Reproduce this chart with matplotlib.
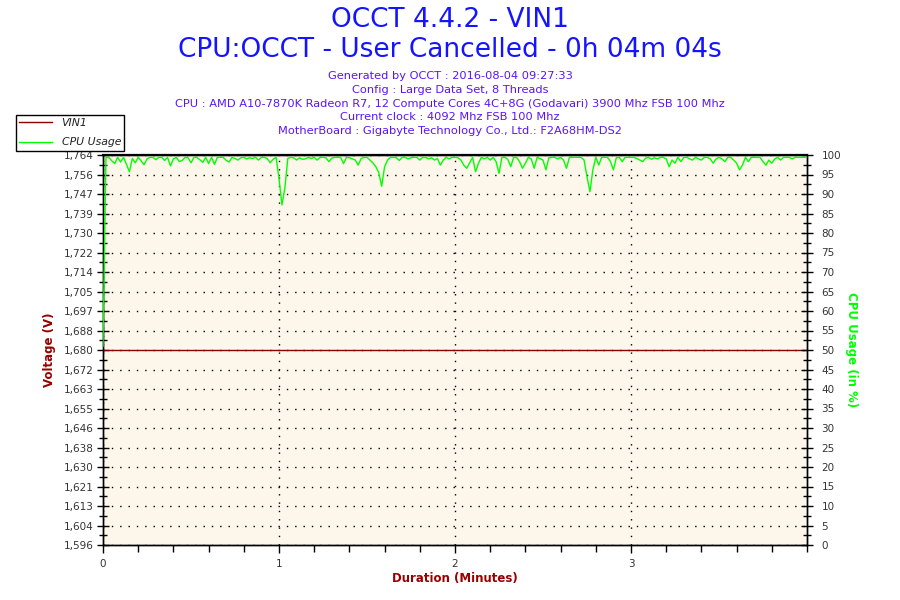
import numpy as np
import matplotlib
matplotlib.use("Agg")
import matplotlib.pyplot as plt
from matplotlib.lines import Line2D

# ---- data ----
title_main = "OCCT 4.4.2 - VIN1"
title_sub = "CPU:OCCT - User Cancelled - 0h 04m 04s"
info_lines = [
    "Generated by OCCT : 2016-08-04 09:27:33",
    "Config : Large Data Set, 8 Threads",
    "CPU : AMD A10-7870K Radeon R7, 12 Compute Cores 4C+8G (Godavari) 3900 Mhz FSB 100 Mhz",
    "Current clock : 4092 Mhz FSB 100 Mhz",
    "MotherBoard : Gigabyte Technology Co., Ltd.: F2A68HM-DS2",
]
vin1_value = 1.680  # volts, constant over the run
volt_min, volt_max = 1.596, 1.764
x_ticks = [0, 1, 2, 3]

# CPU usage (%) sampled once per second
cpu = [
    51, 99.4, 99.4, 98.5, 97.8, 99.4, 98.2, 99.4, 97.6, 95.7,
    99.1, 98, 99.4, 98.5, 97.5, 99, 99.4, 99.4, 98.8, 99.4,
    99.4, 98.6, 99.4, 97.2, 99, 99.4, 98.3, 98.6, 99.4, 99.3,
    98, 99.4, 99.4, 98.8, 98.1, 99.4, 97.8, 99.4, 97.6, 99.4,
    99.4, 99.4, 98.6, 98.2, 99.4, 99.1, 98.7, 99.3, 99.4, 99.0,
    99.3, 99.1, 99.4, 98.7, 99.4, 99.4, 99.1, 98.0, 98.9, 99.4,
    94, 87.2, 91.5, 99.1, 99.4, 99.3, 98.7, 99.3, 98.9, 99.0,
    99.4, 99.1, 99.4, 98.7, 99.4, 99.4, 99.3, 98.3, 99.2, 99.4,
    99.4, 99.4, 97.8, 99.4, 99.3, 99.0, 98.7, 97.4, 99.1, 99.4,
    99.4, 98.7, 98.0, 97.0, 95.5, 92.0, 97, 98.7, 99.4, 99.4,
    99.3, 98.6, 99.4, 99.4, 99.0, 99.3, 99.4, 99.4, 98.7, 99.4,
    99.4, 99.0, 99.3, 98.7, 99.1, 97.4, 98.7, 99.4, 99.0, 99.4,
    99.4, 99.3, 98.7, 97.4, 96.6, 98.0, 99.4, 95.7, 97.9, 99.4,
    99.0, 99.4, 98.7, 99.4, 98.3, 95.3, 99.4, 99.4, 98.9, 97.0,
    99.4, 99.4, 98.3, 96.6, 97.9, 99.4, 99.0, 96.6, 99.4, 99.1,
    98.7, 96.2, 99.3, 99.4, 99.4, 99.0, 99.4, 98.7, 96.6, 99.4,
    99.4, 99.4, 99.4, 99.4, 98.7, 94.4, 90.6, 96.2, 99.4, 97.4,
    99.4, 99.4, 99.4, 98.3, 96.2, 99.3, 99.4, 98.3, 99.4, 99.4,
    99.4, 99.4, 99.1, 98.7, 98.3, 99.2, 99.4, 98.9, 99.3, 99.0,
    99.4, 99.4, 99.0, 97.0, 98.7, 97.9, 99.4, 98.3, 99.4, 99.4,
    99.0, 98.7, 99.4, 99.0, 98.7, 99.4, 99.4, 99.0, 97.9, 99.0,
    99.4, 99.0, 98.3, 99.4, 99.4, 98.7, 97.9, 96.2, 97.4, 99.4,
    98.3, 99.4, 99.4, 99.4, 99.4, 98.3, 97.4, 98.7, 97.9, 99.0,
    99.4, 98.7, 99.4, 99.4, 99.4, 99.0, 99.4, 99.4, 99.4, 99.4,
    99.4,
]
sample_seconds = 1.0
t_min = np.arange(len(cpu)) * sample_seconds / 60.0
vin1 = [vin1_value] * len(cpu)

# ---- styling ----
plt.rcParams['font.family'] = ['DejaVu Sans']
BLUE = '#1414ff'
VIOLET = '#5a14f5'
DARKRED = '#990000'
GREEN = '#00ff00'
BG = '#fcf7ea'

fig = plt.figure(figsize=(9, 6), dpi=100)
fig.patch.set_facecolor('white')
ax = fig.add_axes([103/900, 1-545/600, (807-103)/900, (545-155)/600])
ax.set_facecolor(BG)
ax2 = ax.twinx()

ax.plot(t_min, vin1, color='#8b0000', lw=1.0, zorder=3)
ax2.plot(t_min, cpu, color=GREEN, lw=1.0, zorder=4)

ax.set_xlim(0, 4)
ax.set_ylim(volt_min, volt_max)
ax2.set_ylim(0, 100)

vticks = np.linspace(volt_min, volt_max, 21)
ax.set_yticks(vticks)
ax.set_yticklabels([f"{v:.3f}".replace('.', ',') for v in vticks])
ax.set_yticks(np.linspace(volt_min, volt_max, 41), minor=True)
ax2.set_yticks(np.arange(0, 101, 5))
ax2.set_yticks(np.arange(0, 101, 2.5), minor=True)
ax.set_xticks(x_ticks)
ax.set_xticklabels([str(v) for v in x_ticks])
ax.set_xticks(np.arange(0, 4.01, 0.2), minor=True)

ax.grid(True, which='major', color='black', linestyle=(0, (1, 5)), lw=1.0)
ax.set_axisbelow(False)

for a in (ax, ax2):
    for s in a.spines.values():
        s.set_color('black')
        s.set_linewidth(1.0)
ax2.spines['top'].set_linewidth(1.6)

ax.tick_params(axis='y', which='major', direction='inout', length=9, width=1,
               labelsize=7.5, labelcolor='#333333', pad=2)
ax.tick_params(axis='y', which='minor', direction='inout', length=6, width=1)
ax2.tick_params(axis='y', which='major', direction='inout', length=9, width=1,
                labelsize=7.5, labelcolor='#333333', pad=6)
ax2.tick_params(axis='y', which='minor', direction='inout', length=6, width=1)
ax.tick_params(axis='x', which='major', direction='out', length=6, width=1,
               labelsize=7.5, labelcolor='#333333', pad=4)
ax.tick_params(axis='x', which='minor', direction='out', length=5, width=1)

ax.set_ylabel("Voltage (V)", color=DARKRED, fontweight='bold', fontsize=8.5, labelpad=6)
ax2.set_ylabel("CPU Usage (in %)", color=GREEN, fontweight='bold', fontsize=8.5,
               rotation=-90, labelpad=12)
ax.set_xlabel("Duration (Minutes)", color=DARKRED, fontweight='bold', fontsize=8.5, labelpad=2)

fig.text(0.5, 1-20/600, title_main, ha='center', va='center', color=BLUE, fontsize=19)
fig.text(0.5, 1-50/600, title_sub, ha='center', va='center', color=BLUE, fontsize=19)
for i, line in enumerate(info_lines):
    fig.text(0.5, 1-(76+13.8*i)/600, line, ha='center', va='center', color=VIOLET, fontsize=8.2)

handles = [Line2D([0], [0], color='#8b0000', lw=1), Line2D([0], [0], color=GREEN, lw=1)]
leg = fig.legend(handles, ["VIN1", "CPU Usage"], loc='upper left',
                 bbox_to_anchor=(16/900, 1-115/600), fancybox=False, framealpha=1,
                 edgecolor='black', fontsize=7.8, handlelength=3.0, borderpad=0.3,
                 labelspacing=0.85, handletextpad=0.9, borderaxespad=0)
leg.get_frame().set_linewidth(1.0)
leg.set_zorder(10)
for txt in leg.get_texts():
    txt.set_fontstyle('italic')
    txt.set_color('#222222')

fig.savefig("out.png", dpi=100)
